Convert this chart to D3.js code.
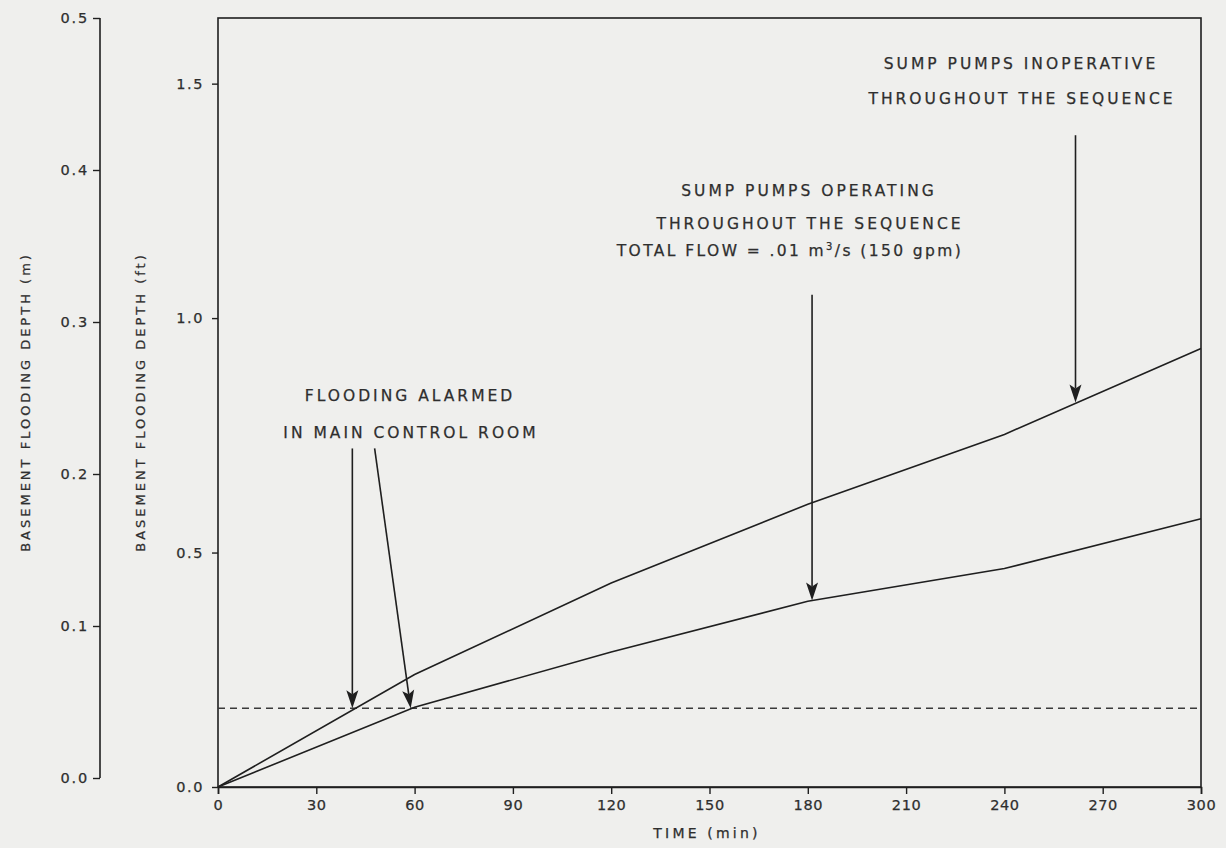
<!DOCTYPE html>
<html>
<head>
<meta charset="utf-8">
<script src="https://cdn.jsdelivr.net/npm/d3@7"></script>
<style>
  html, body { margin: 0; padding: 0; background: #efefed; }
  svg { display: block; }
  text { font-family: "DejaVu Sans", sans-serif; fill: #2e2e2e; stroke: #2e2e2e; stroke-width: 0.25px; }
</style>
</head>
<body>
<svg id="chart" width="1226" height="848"></svg>
<script>
// ---- data ----
const timeMin = [0, 60, 120, 180, 240, 300];
const depthInoperativeFt = [0, 0.24, 0.435, 0.603, 0.752, 0.935];
const depthOperatingFt = [0, 0.17, 0.288, 0.396, 0.466, 0.572];
const alarmLevelFt = 0.168;

const xTicks = [0, 30, 60, 90, 120, 150, 180, 210, 240, 270, 300];
const ftTicks = [0, 0.5, 1.0, 1.5];
const ftTickLabels = ["0.0", "0.5", "1.0", "1.5"];
const mTicks = [0, 0.1, 0.2, 0.3, 0.4, 0.5];
const mTickLabels = ["0.0", "0.1", "0.2", "0.3", "0.4", "0.5"];

const xTitle = "TIME (min)";
const ftTitle = "BASEMENT FLOODING DEPTH (ft)";
const mTitle = "BASEMENT FLOODING DEPTH (m)";

// arrows: tail (time, ft) -> tip (time, ft)
const arrowTailTime = [41, 47.8, 181.3, 261.7];
const arrowTailFt   = [0.722, 0.722, 1.05, 1.39];
const arrowTipTime  = [41, 58.8, 181.3, 261.7];
const arrowTipFt    = [0.168, 0.168, 0.398, 0.82];

// ---- layout ----
const svg = d3.select("#chart");
const L = 218, R = 1201, T = 18, B = 787;
const x = d3.scaleLinear().domain([0, 300]).range([L, R]);
const yFt = d3.scaleLinear().domain([0, 1.64]).range([B, T]);
const yM = d3.scaleLinear().domain([0, 0.5]).range([778, 18]);
const ink = "#1f1f1f";

// frame
svg.append("rect").attr("x", L).attr("y", T).attr("width", R - L).attr("height", B - T)
  .attr("fill", "none").attr("stroke", ink).attr("stroke-width", 1.6);

function styleTicks(g, spacing) {
  g.selectAll(".tick line").attr("stroke", ink).attr("stroke-width", 1.4);
  g.selectAll(".tick text").style("font-size", "14.5px").style("letter-spacing", spacing)
    .attr("fill", "#2e2e2e");
}

// x axis
const xAxis = d3.axisBottom(x).tickValues(xTicks).tickSize(7).tickPadding(6)
  .tickFormat(d3.format("d"));
const gx = svg.append("g").attr("transform", `translate(0,${B})`).call(xAxis);
gx.select(".domain").attr("stroke", ink).attr("stroke-width", 1.6);
styleTicks(gx, "0.6px");

// ft axis
const ftAxis = d3.axisLeft(yFt).tickValues(ftTicks).tickSize(6).tickPadding(8)
  .tickFormat((d, i) => ftTickLabels[i]);
const gf = svg.append("g").attr("transform", `translate(${L},0)`).call(ftAxis);
gf.select(".domain").remove();
styleTicks(gf, "1.6px");

// m axis
const mAxis = d3.axisLeft(yM).tickValues(mTicks).tickSize(7).tickPadding(4)
  .tickFormat((d, i) => mTickLabels[i]);
const gm = svg.append("g").attr("transform", `translate(100,0)`).call(mAxis);
gm.select(".domain").attr("d", `M-0,${yM(0.5)}V${yM(0)}`).attr("stroke", ink).attr("stroke-width", 1.6);
styleTicks(gm, "1.8px");

// axis titles
svg.append("text").attr("x", 707).attr("y", 838).attr("text-anchor", "middle")
  .style("font-size", "14px").style("letter-spacing", "3.2px").text(xTitle);
svg.append("text").attr("transform", "translate(30,402) rotate(-90)").attr("text-anchor", "middle")
  .style("font-size", "13px").style("letter-spacing", "3px").text(mTitle);
svg.append("text").attr("transform", "translate(145,402) rotate(-90)").attr("text-anchor", "middle")
  .style("font-size", "13px").style("letter-spacing", "3px").text(ftTitle);

// dashed alarm level
svg.append("line").attr("x1", L).attr("x2", R).attr("y1", yFt(alarmLevelFt)).attr("y2", yFt(alarmLevelFt))
  .attr("stroke", "#3a3a3a").attr("stroke-width", 1.5).attr("stroke-dasharray", "7,5");

// curves
const line = d3.line().x(d => x(d[0])).y(d => yFt(d[1]));
[depthInoperativeFt, depthOperatingFt].forEach(series => {
  svg.append("path").datum(timeMin.map((t, i) => [t, series[i]]))
    .attr("d", line).attr("fill", "none").attr("stroke", ink).attr("stroke-width", 1.6);
});

// arrows
const headLen = 18, headW = 6;
arrowTailTime.forEach((_, i) => {
  const x0 = x(arrowTailTime[i]), y0 = yFt(arrowTailFt[i]);
  const x1 = x(arrowTipTime[i]), y1 = yFt(arrowTipFt[i]);
  const dx = x1 - x0, dy = y1 - y0, len = Math.hypot(dx, dy);
  const ux = dx / len, uy = dy / len;
  const bx = x1 - ux * headLen, by = y1 - uy * headLen;
  svg.append("line").attr("x1", x0).attr("y1", y0).attr("x2", bx + ux * 4).attr("y2", by + uy * 4)
    .attr("stroke", ink).attr("stroke-width", 1.6);
  svg.append("path")
    .attr("d", `M${x1},${y1}L${bx - uy * headW},${by + ux * headW}L${bx + ux * 4},${by + uy * 4}L${bx + uy * headW},${by - ux * headW}Z`)
    .attr("fill", ink);
});

// annotation text
function note(tx, ty, str) {
  return svg.append("text").attr("x", tx).attr("y", ty).attr("text-anchor", "middle")
    .style("font-size", "15.5px").style("letter-spacing", "3px").text(str);
}
note(1021, 69, "SUMP PUMPS INOPERATIVE");
note(1022, 104, "THROUGHOUT THE SEQUENCE");
note(809, 196, "SUMP PUMPS OPERATING");
note(810, 229, "THROUGHOUT THE SEQUENCE");
const tf = svg.append("text").attr("x", 790).attr("y", 256).attr("text-anchor", "middle")
  .style("font-size", "15.5px").style("letter-spacing", "2.4px");
tf.append("tspan").text("TOTAL FLOW = .01 m");
tf.append("tspan").attr("dy", -6).style("font-size", "10px").text("3");
tf.append("tspan").attr("dy", 6).text("/s (150 gpm)");
note(410, 401, "FLOODING ALARMED");
note(411, 438, "IN MAIN CONTROL ROOM");
</script>
</body>
</html>
